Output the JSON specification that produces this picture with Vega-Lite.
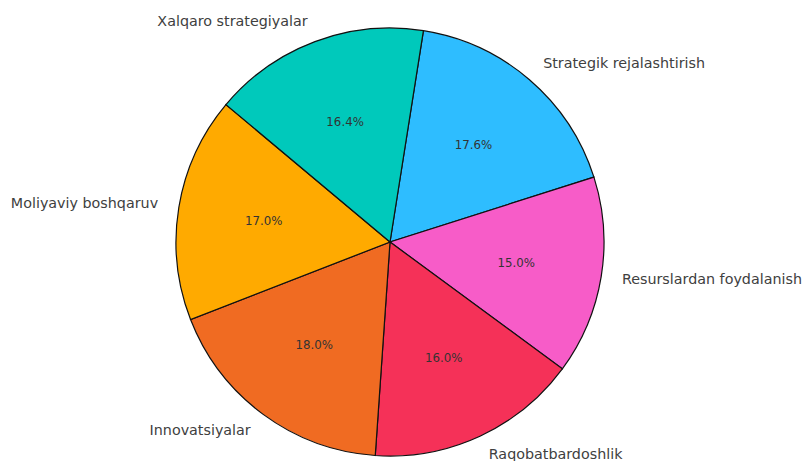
{
  "$schema": "https://vega.github.io/schema/vega-lite/v6.json",
  "width": 780,
  "height": 484,
  "autosize": "none",
  "padding": {"left": 0, "top": 0, "right": 25, "bottom": 0},
  "background": "white",
  "view": {"stroke": null},
  "data": {
    "values": [
      {"i": 1, "label": "Strategik rejalashtirish", "share": 17.6, "pct": "17.6%"},
      {"i": 2, "label": "Resurslardan foydalanish", "share": 15.0, "pct": "15.0%"},
      {"i": 3, "label": "Raqobatbardoshlik", "share": 16.0, "pct": "16.0%"},
      {"i": 4, "label": "Innovatsiyalar", "share": 18.0, "pct": "18.0%"},
      {"i": 5, "label": "Moliyaviy boshqaruv", "share": 17.0, "pct": "17.0%"},
      {"i": 6, "label": "Xalqaro strategiyalar", "share": 16.4, "pct": "16.4%"}
    ]
  },
  "encoding": {
    "theta": {"field": "share", "type": "quantitative", "stack": true, "scale": {"range": [0.157, 6.440]}},
    "order": {"field": "i", "type": "quantitative"}
  },
  "layer": [
    {
      "mark": {"type": "arc", "outerRadius": 214, "stroke": "#111111", "strokeWidth": 1.2},
      "encoding": {
        "color": {
          "field": "label", "type": "nominal", "legend": null,
          "scale": {
            "domain": ["Strategik rejalashtirish", "Resurslardan foydalanish", "Raqobatbardoshlik", "Innovatsiyalar", "Moliyaviy boshqaruv", "Xalqaro strategiyalar"],
            "range": ["#2EBDFF", "#F75CC8", "#F53158", "#F06B22", "#FFAA00", "#00C9BB"]
          }
        }
      }
    },
    {
      "mark": {"type": "text", "radius": 128, "font": "DejaVu Sans", "fontSize": 11.8, "fill": "#333333", "align": "center", "baseline": "middle"},
      "encoding": {"text": {"field": "pct"}}
    },
    {
      "mark": {"type": "text", "radius": 235, "font": "DejaVu Sans", "fontSize": 14.3, "fill": "#404040", "align": "left", "baseline": "middle"},
      "encoding": {
        "text": {"condition": {"test": "datum.i <= 3", "field": "label"}, "value": ""}
      }
    },
    {
      "mark": {"type": "text", "radius": 235, "font": "DejaVu Sans", "fontSize": 14.3, "fill": "#404040", "align": "right", "baseline": "middle"},
      "encoding": {
        "text": {"condition": {"test": "datum.i > 3", "field": "label"}, "value": ""}
      }
    }
  ]
}
